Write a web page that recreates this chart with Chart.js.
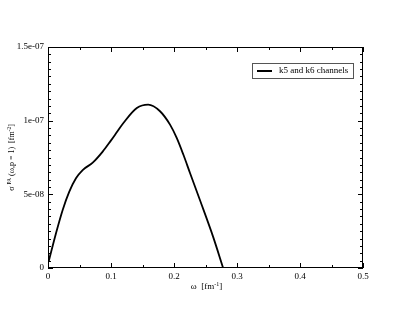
<!DOCTYPE html>
<html>
<head>
<meta charset="utf-8">
<script src="https://cdn.jsdelivr.net/npm/chart.js@4"></script>
<style>
  html, body { margin: 0; padding: 0; background: #fff; }
  #wrap { width: 409px; height: 316px; }
</style>
</head>
<body>
<div id="wrap"><canvas id="chart" width="409" height="316"></canvas></div>
<script>
// values
const omega = [0.001, 0.0127, 0.0233, 0.0338, 0.0444, 0.055, 0.071, 0.0868, 0.0995, 0.110, 0.120, 0.141, 0.159,
    0.1778, 0.1937, 0.2043, 0.2148, 0.2254, 0.241, 0.262, 0.278];
const sigma = [4.3e-9, 23.6e-9, 39.4e-9, 51.8e-9, 60.9e-9, 66.5e-9, 71.5e-9, 79e-9, 86.3e-9, 92.6e-9, 98.6e-9, 108.6e-9, 110.9e-9,
    106.4e-9, 97.3e-9, 88.3e-9, 77e-9, 64.5e-9, 46.3e-9, 21.3e-9, 0];
const xTickLabels = ['0', '0.1', '0.2', '0.3', '0.4', '0.5'];
const yTickLabels = ['0', '5e-08', '1e-07', '1.5e-07'];
const seriesName = 'k5 and k6 channels';

const serif = '"Liberation Serif", "Times New Roman", serif';

// draws a run of [text, size, raise] pieces, centred on cx
function richText(c, parts, cx, y) {
    let w = 0;
    for (const [t, s] of parts) { c.font = s + 'px ' + serif; w += c.measureText(t).width; }
    let x = cx - w / 2;
    for (const [t, s, dy] of parts) {
        c.font = s + 'px ' + serif;
        c.fillText(t, x, y + dy);
        x += c.measureText(t).width;
    }
}

// grace-style frame: inward ticks on all four sides, titles and legend box
const frame = {
    id: 'frame',
    afterDraw(chart) {
        const c = chart.ctx, a = chart.chartArea;
        const xs = chart.scales.x, ys = chart.scales.y;
        c.save();
        c.strokeStyle = '#000';
        c.lineWidth = 1;
        c.strokeRect(a.left + 0.5, a.top + 0.5, a.right - a.left - 1, a.bottom - a.top - 1);
        c.beginPath();
        for (let i = 0; i <= 10; i++) {
            const px = Math.round(xs.getPixelForValue(i * 0.05)) + 0.5;
            const len = i % 2 === 0 ? 5 : 3;
            c.moveTo(px, a.bottom); c.lineTo(px, a.bottom - len);
            c.moveTo(px, a.top); c.lineTo(px, a.top + len);
        }
        for (let i = 0; i <= 30; i++) {
            const py = Math.round(ys.getPixelForValue(i * 5e-9)) + 0.5;
            const len = i % 10 === 0 ? 5 : 3;
            c.moveTo(a.left, py); c.lineTo(a.left + len, py);
            c.moveTo(a.right, py); c.lineTo(a.right - len, py);
        }
        c.stroke();

        c.fillStyle = '#000';
        c.textBaseline = 'middle';
        // x title
        richText(c, [['ω  [fm', 9, 0], ['-1', 6, -3], [']', 9, 0]], (a.left + a.right) / 2 + 1, 287);

        // y title, rotated
        c.save();
        c.translate(12, (a.top + a.bottom) / 2);
        c.rotate(-Math.PI / 2);
        richText(c, [['σ ', 8, 0], ['PA', 5.5, -2.5], [' (ω,p = 1)  [fm', 8, 0], ['-2', 5.5, -2.5], [']', 8, 0]], 0, 0);
        c.restore();

        // legend
        c.strokeStyle = '#555';
        c.strokeRect(252.5, 63.5, 101, 15);
        c.strokeStyle = '#000';
        c.lineWidth = 2;
        c.beginPath();
        c.moveTo(257, 71); c.lineTo(272, 71);
        c.stroke();
        c.textAlign = 'left';
        c.font = '9px ' + serif;
        c.fillText(seriesName, 279, 71);
        c.restore();
    }
};

new Chart(document.getElementById('chart'), {
    type: 'line',
    data: {
        datasets: [{
            label: seriesName,
            data: omega.map((w, i) => ({ x: w, y: sigma[i] })),
            borderColor: '#000',
            borderWidth: 1.8,
            pointRadius: 0,
            fill: false,
            cubicInterpolationMode: 'monotone'
        }]
    },
    options: {
        responsive: false,
        animation: false,
        layout: { padding: { left: 0, top: 47, right: 46, bottom: 0 } },
        plugins: { legend: { display: false }, tooltip: { enabled: false } },
        scales: {
            x: {
                type: 'linear',
                min: 0, max: 0.5,
                grid: { display: false, drawTicks: false },
                border: { display: false },
                ticks: {
                    stepSize: 0.1,
                    padding: 3,
                    color: '#000',
                    font: { family: serif, size: 9 },
                    maxRotation: 0,
                    callback: (v, i) => xTickLabels[i]
                },
                afterFit: s => { s.height = 48; }
            },
            y: {
                min: 0, max: 1.5e-7,
                grid: { display: false, drawTicks: false },
                border: { display: false },
                ticks: {
                    stepSize: 5e-8,
                    padding: 4,
                    color: '#000',
                    font: { family: serif, size: 9 },
                    callback: (v, i) => yTickLabels[i]
                },
                afterFit: s => { s.width = 48; }
            }
        }
    },
    plugins: [frame]
});
</script>
</body>
</html>
